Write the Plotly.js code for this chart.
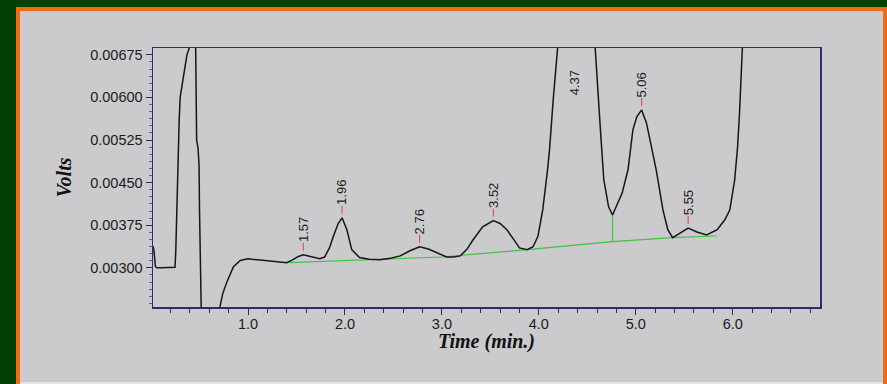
<!DOCTYPE html>
<html>
<head>
<meta charset="utf-8">
<script src="https://cdn.plot.ly/plotly-3.0.1.min.js"></script>
<style>
  html, body { margin: 0; padding: 0; }
  body { width: 887px; height: 384px; background: #023f02; position: relative; overflow: hidden; }
  #frame { position: absolute; left: 16px; top: 7px; width: 863px; height: 390px;
           border: 4px solid #f26a12; background: #cbcacd; }
  #bevel { position: absolute; left: 20px; top: 382px; width: 863px; height: 2px; background: #e4e4e6; }
  #chart { position: absolute; left: 0; top: 0; width: 887px; height: 384px; }
</style>
</head>
<body>
<div id="frame"></div>
<div id="bevel"></div>
<div id="chart"></div>
<script>
// Chromatogram signal (time in minutes, signal in volts)
const time = [0.02, 0.03, 0.045, 0.06, 0.10, 0.15, 0.20, 0.247, 0.255, 0.265, 0.278, 0.29, 0.30, 0.32, 0.35, 0.37, 0.40, 0.43, 0.46, 0.465, 0.47, 0.485, 0.495, 0.50, 0.505, 0.52, 0.60, 0.70, 0.71, 0.74, 0.78, 0.85, 0.92, 1.00, 1.10, 1.20, 1.30, 1.40, 1.46, 1.52, 1.57, 1.62, 1.67, 1.74, 1.79, 1.84, 1.88, 1.93, 1.97, 2.02, 2.07, 2.15, 2.25, 2.36, 2.47, 2.57, 2.67, 2.77, 2.86, 2.95, 3.05, 3.12, 3.19, 3.26, 3.32, 3.42, 3.53, 3.60, 3.67, 3.74, 3.80, 3.88, 3.94, 3.99, 4.04, 4.09, 4.11, 4.15, 4.19, 4.25, 4.37, 4.50, 4.58, 4.61, 4.64, 4.67, 4.72, 4.76, 4.81, 4.86, 4.92, 4.97, 5.01, 5.06, 5.11, 5.14, 5.21, 5.28, 5.33, 5.38, 5.47, 5.54, 5.63, 5.73, 5.84, 5.92, 5.97, 6.02, 6.05, 6.07, 6.10, 6.15];
const volts = [0.00338, 0.00330, 0.00302, 0.00300, 0.00300, 0.00300, 0.00300, 0.00301, 0.00330, 0.00400, 0.00508, 0.00560, 0.00600, 0.00622, 0.00650, 0.00675, 0.00690, 0.00760, 0.00690, 0.00600, 0.00525, 0.00510, 0.00480, 0.00400, 0.00300, 0.00200, 0.00180, 0.00215, 0.00231, 0.00255, 0.00274, 0.00302, 0.00313, 0.00316, 0.00314, 0.00312, 0.00311, 0.00309, 0.00314, 0.00320, 0.00323, 0.00321, 0.00319, 0.00316, 0.00319, 0.00335, 0.00355, 0.00378, 0.00388, 0.00367, 0.00332, 0.00318, 0.00315, 0.00314, 0.00317, 0.00321, 0.00330, 0.00337, 0.00333, 0.00326, 0.00319, 0.00319, 0.00321, 0.00333, 0.00349, 0.00372, 0.00383, 0.00378, 0.00367, 0.00350, 0.00335, 0.00332, 0.00337, 0.00355, 0.00402, 0.00473, 0.00508, 0.00600, 0.00690, 0.00800, 0.00900, 0.00800, 0.00690, 0.00600, 0.00530, 0.00455, 0.00407, 0.00393, 0.00412, 0.00432, 0.00473, 0.00543, 0.00566, 0.00578, 0.00555, 0.00531, 0.00473, 0.00402, 0.00367, 0.00353, 0.00363, 0.00370, 0.00363, 0.00358, 0.00367, 0.00385, 0.00402, 0.00455, 0.00513, 0.00573, 0.00690, 0.00800];

// Integration baseline
const baseTime = [1.43, 3.00, 3.88, 4.76, 5.38, 5.83];
const baseVolts = [0.00309, 0.00319, 0.00332, 0.00346, 0.00353, 0.00356];

// Drop line between peaks 4.37 and 5.06
const dropTime = [4.76, 4.76];
const dropVolts = [0.00346, 0.00393];

// Labelled peaks (retention time, apex signal)
const peakLabels = ["1.57", "1.96", "2.76", "3.52", "5.06", "5.55"];
const peakTimes = [1.57, 1.97, 2.77, 3.53, 5.06, 5.54];
const peakVolts = [0.00323, 0.00388, 0.00337, 0.00383, 0.00578, 0.00370];

// Off-scale peak label
const offLabel = "4.37";
const offTime = 4.37;
const offVolts = 0.00626;

const xTitle = "Time (min.)";
const yTitle = "Volts";

const tickFont = {family: "Liberation Sans Narrow, Arial Narrow, Liberation Sans, Arial, sans-serif", size: 14.5, color: "#1c1c1c"};
const titleFont = {family: "Liberation Serif, Times New Roman, serif", size: 20, color: "#111111", weight: "bold", style: "italic"};
const peakFont = {family: "Liberation Sans, Arial, sans-serif", size: 13, color: "#1c1c1c"};

const traces = [
  {x: baseTime, y: baseVolts, type: "scatter", mode: "lines", line: {color: "#3fc43f", width: 1.2}, hoverinfo: "skip"},
  {x: dropTime, y: dropVolts, type: "scatter", mode: "lines", line: {color: "#3fc43f", width: 1.2}, hoverinfo: "skip"},
  {x: time, y: volts, type: "scatter", mode: "lines", line: {color: "#161616", width: 1.5}, hoverinfo: "skip"}
];

const annotations = peakLabels.map((lab, i) => ({
  x: peakTimes[i], y: peakVolts[i], xref: "x", yref: "y",
  text: lab, textangle: -90, font: peakFont,
  showarrow: true, arrowhead: 0, arrowwidth: 1, arrowcolor: "#e04040",
  ax: 0, ay: -25, standoff: 4, borderpad: 0
}));
annotations.push({
  x: offTime, y: offVolts, xref: "x", yref: "y",
  text: offLabel, textangle: -90, font: peakFont, showarrow: false
});
// x-axis title placed as a paper annotation to sit close under the tick labels
annotations.push({
  x: 0.5, y: -0.133, xref: "paper", yref: "paper", xanchor: "center", yanchor: "middle",
  text: xTitle, font: titleFont, showarrow: false
});

const layout = {
  width: 887, height: 384,
  margin: {l: 153, r: 67, t: 48, b: 77},
  paper_bgcolor: "rgba(0,0,0,0)",
  plot_bgcolor: "rgba(0,0,0,0)",
  showlegend: false,
  xaxis: {
    range: [0.02, 6.9], tick0: 0, dtick: 1, tickformat: ".1f",
    showgrid: false, zeroline: false,
    showline: true, linecolor: "#2e2e60", linewidth: 1.5, mirror: true,
    ticks: "outside", ticklen: 6, tickcolor: "#2e2e60", tickwidth: 1,
    minor: {dtick: 0.2, tick0: 0, ticks: "outside", ticklen: 4, tickcolor: "#2e2e60", showgrid: false},
    tickfont: tickFont, ticklabelstandoff: -3
  },
  yaxis: {
    range: [0.00231, 0.00687], tick0: 0.003, dtick: 0.00075, tickformat: ".5f",
    showgrid: false, zeroline: false,
    showline: true, linecolor: "#2e2e60", linewidth: 1.5, mirror: true,
    ticks: "outside", ticklen: 6, tickcolor: "#2e2e60", tickwidth: 1,
    minor: {dtick: 0.000125, tick0: 0.003, ticks: "outside", ticklen: 3, tickcolor: "#5a5ab8", showgrid: false},
    tickfont: tickFont,
    title: {text: yTitle, font: titleFont, standoff: 13}
  },
  annotations: annotations
};

Plotly.newPlot("chart", traces, layout, {staticPlot: true, displayModeBar: false});
</script>
</body>
</html>
